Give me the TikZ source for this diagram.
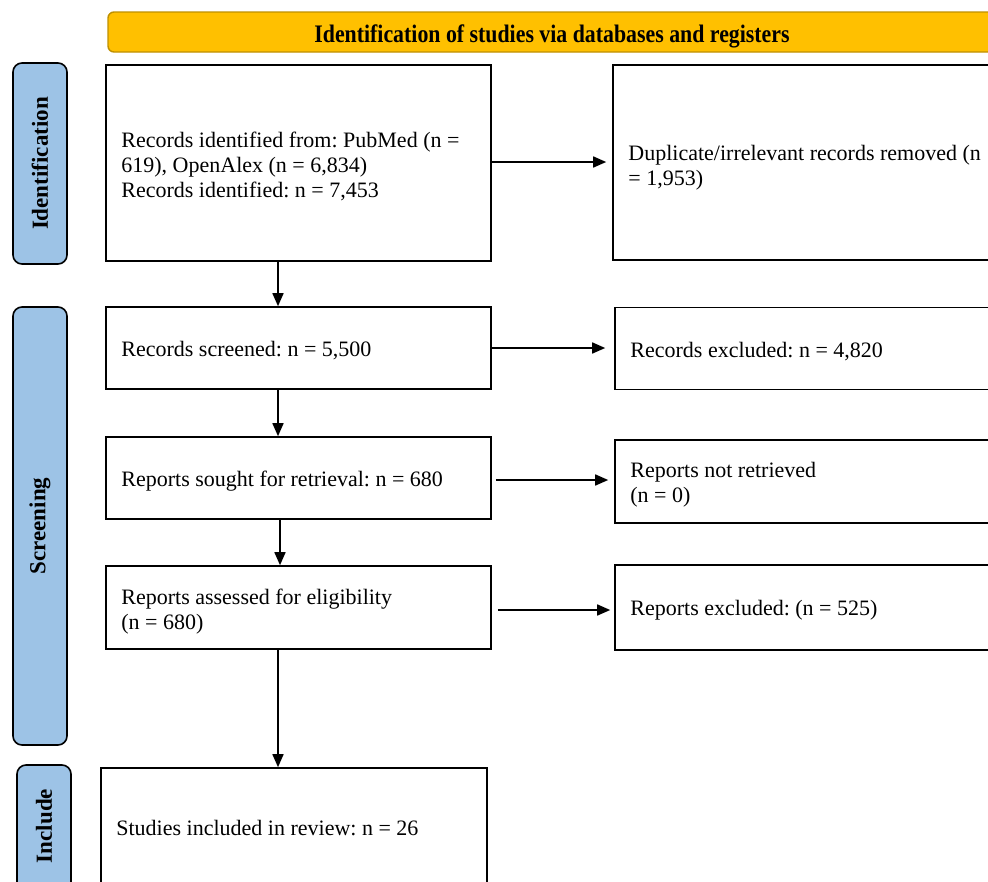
\documentclass[tikz,border=0pt]{standalone}
\usepackage{fontspec}
\setmainfont{Liberation Serif}
\usetikzlibrary{arrows.meta,calc}
\definecolor{bannerfill}{HTML}{FFC000}
\definecolor{bannerline}{HTML}{BF9000}
\definecolor{sidefill}{HTML}{9DC3E6}
\frenchspacing
\begin{document}
\begin{tikzpicture}[x=1pt,y=-1pt,
  box/.style={draw=black,line width=1.6pt,fill=white,inner sep=0pt},
  txt/.style={anchor=west,inner sep=0pt,align=left,font=\fontsize{22}{25}\selectfont},
  side/.style={draw=black,line width=1.6pt,fill=sidefill,rounded corners=9pt,inner sep=0pt},
  sidetxt/.style={rotate=90,inner sep=0pt,font=\fontsize{23}{26}\selectfont\bfseries},
  arr/.style={line width=1.6pt,-{Triangle[length=13pt,width=11pt]}}]
\useasboundingbox (0,0) rectangle (988,881);
\clip (0,0) rectangle (988,881);
% banner
\node[draw=bannerline,line width=1.4pt,fill=bannerfill,rounded corners=6pt,minimum width=888pt,minimum height=40pt,inner sep=0pt] (banner) at (552,32) {};
\node[inner sep=0pt,font=\fontsize{21}{24}\selectfont\bfseries] (bannert) at (552,36.5)
  {\scalebox{1.04}[1.2]{Identification of studies via databases and registers}};
% side labels
\node[side,minimum width=54pt,minimum height=201pt] (sid) at (40,163.5) {};
\node[sidetxt] (sidt) at (sid.center) {Identification};
\node[side,minimum width=54pt,minimum height=438pt] (sscr) at (40,526) {};
\node[sidetxt] (sscrt) at (sscr.center) {Screening};
\node[side,minimum width=54pt,minimum height=130pt] (sinc) at (44,830) {};
\node[sidetxt] (sinct) at (44,826) {Include};
% main boxes
\node[box,minimum width=385pt,minimum height=196pt] (b1) at (298.5,163) {};
\node[txt] (b1t) at ([xshift=16pt,yshift=-3pt]b1.west)
  {Records identified from: PubMed (n =\\619), OpenAlex (n = 6,834)\\Records identified: n = 7,453};
\node[box,minimum width=387pt,minimum height=195pt] (dup) at (806.5,162.5) {};
\node[txt] (dupt) at ([xshift=16pt,yshift=-5pt]dup.west)
  {Duplicate/irrelevant records removed (n\\= 1,953)};
\node[box,minimum width=385pt,minimum height=82pt] (scr) at (298.5,348) {};
\node[txt] (scrt) at ([xshift=16pt,yshift=-3pt]scr.west) {Records screened: n = 5,500};
\node[box,minimum width=385pt,minimum height=82pt] (exc) at (807.5,348.5) {};
\node[txt] (exct) at ([xshift=16pt,yshift=-3pt]exc.west) {Records excluded: n = 4,820};
\node[box,minimum width=385pt,minimum height=82pt] (sou) at (298.5,478) {};
\node[txt] (sout) at ([xshift=16pt,yshift=-3pt]sou.west) {Reports sought for retrieval: n = 680};
\node[box,minimum width=385pt,minimum height=83pt] (nr) at (807.5,481.5) {};
\node[txt] (nrt) at ([xshift=16pt,yshift=-3pt]nr.west) {Reports not retrieved\\(n = 0)};
\node[box,minimum width=385pt,minimum height=83pt] (ass) at (298.5,607.5) {};
\node[txt] (asst) at ([xshift=16pt,yshift=-4pt]ass.west) {Reports assessed for eligibility\\(n = 680)};
\node[box,minimum width=385pt,minimum height=85pt] (rex) at (807.5,607.5) {};
\node[txt] (rext) at ([xshift=16pt,yshift=-3pt]rex.west) {Reports excluded: (n = 525)};
\node[box,minimum width=386pt,minimum height=118pt] (inc) at (294,827) {};
\node[txt] (inct) at ([xshift=16pt,yshift=-1pt]inc.west) {Studies included in review: n = 26};
% connectors
\coordinate (xa) at (278,0);
\coordinate (xb) at (280,0);
\draw[arr,shorten >=6pt] (b1.east |- 0,162) -- (dup.west |- 0,162);
\draw[arr,shorten >=9pt] (scr.east |- 0,348) -- (exc.west |- 0,348);
\draw[arr,shorten <=4pt,shorten >=6pt] (sou.east |- 0,480) -- (nr.west |- 0,480);
\draw[arr,shorten <=6pt,shorten >=4pt] (ass.east |- 0,610) -- (rex.west |- 0,610);
\draw[arr] (b1.south -| xa) -- (scr.north -| xa);
\draw[arr] (scr.south -| xa) -- (sou.north -| xa);
\draw[arr] (sou.south -| xb) -- (ass.north -| xb);
\draw[arr] (ass.south -| xa) -- (inc.north -| xa);
\end{tikzpicture}
\end{document}
